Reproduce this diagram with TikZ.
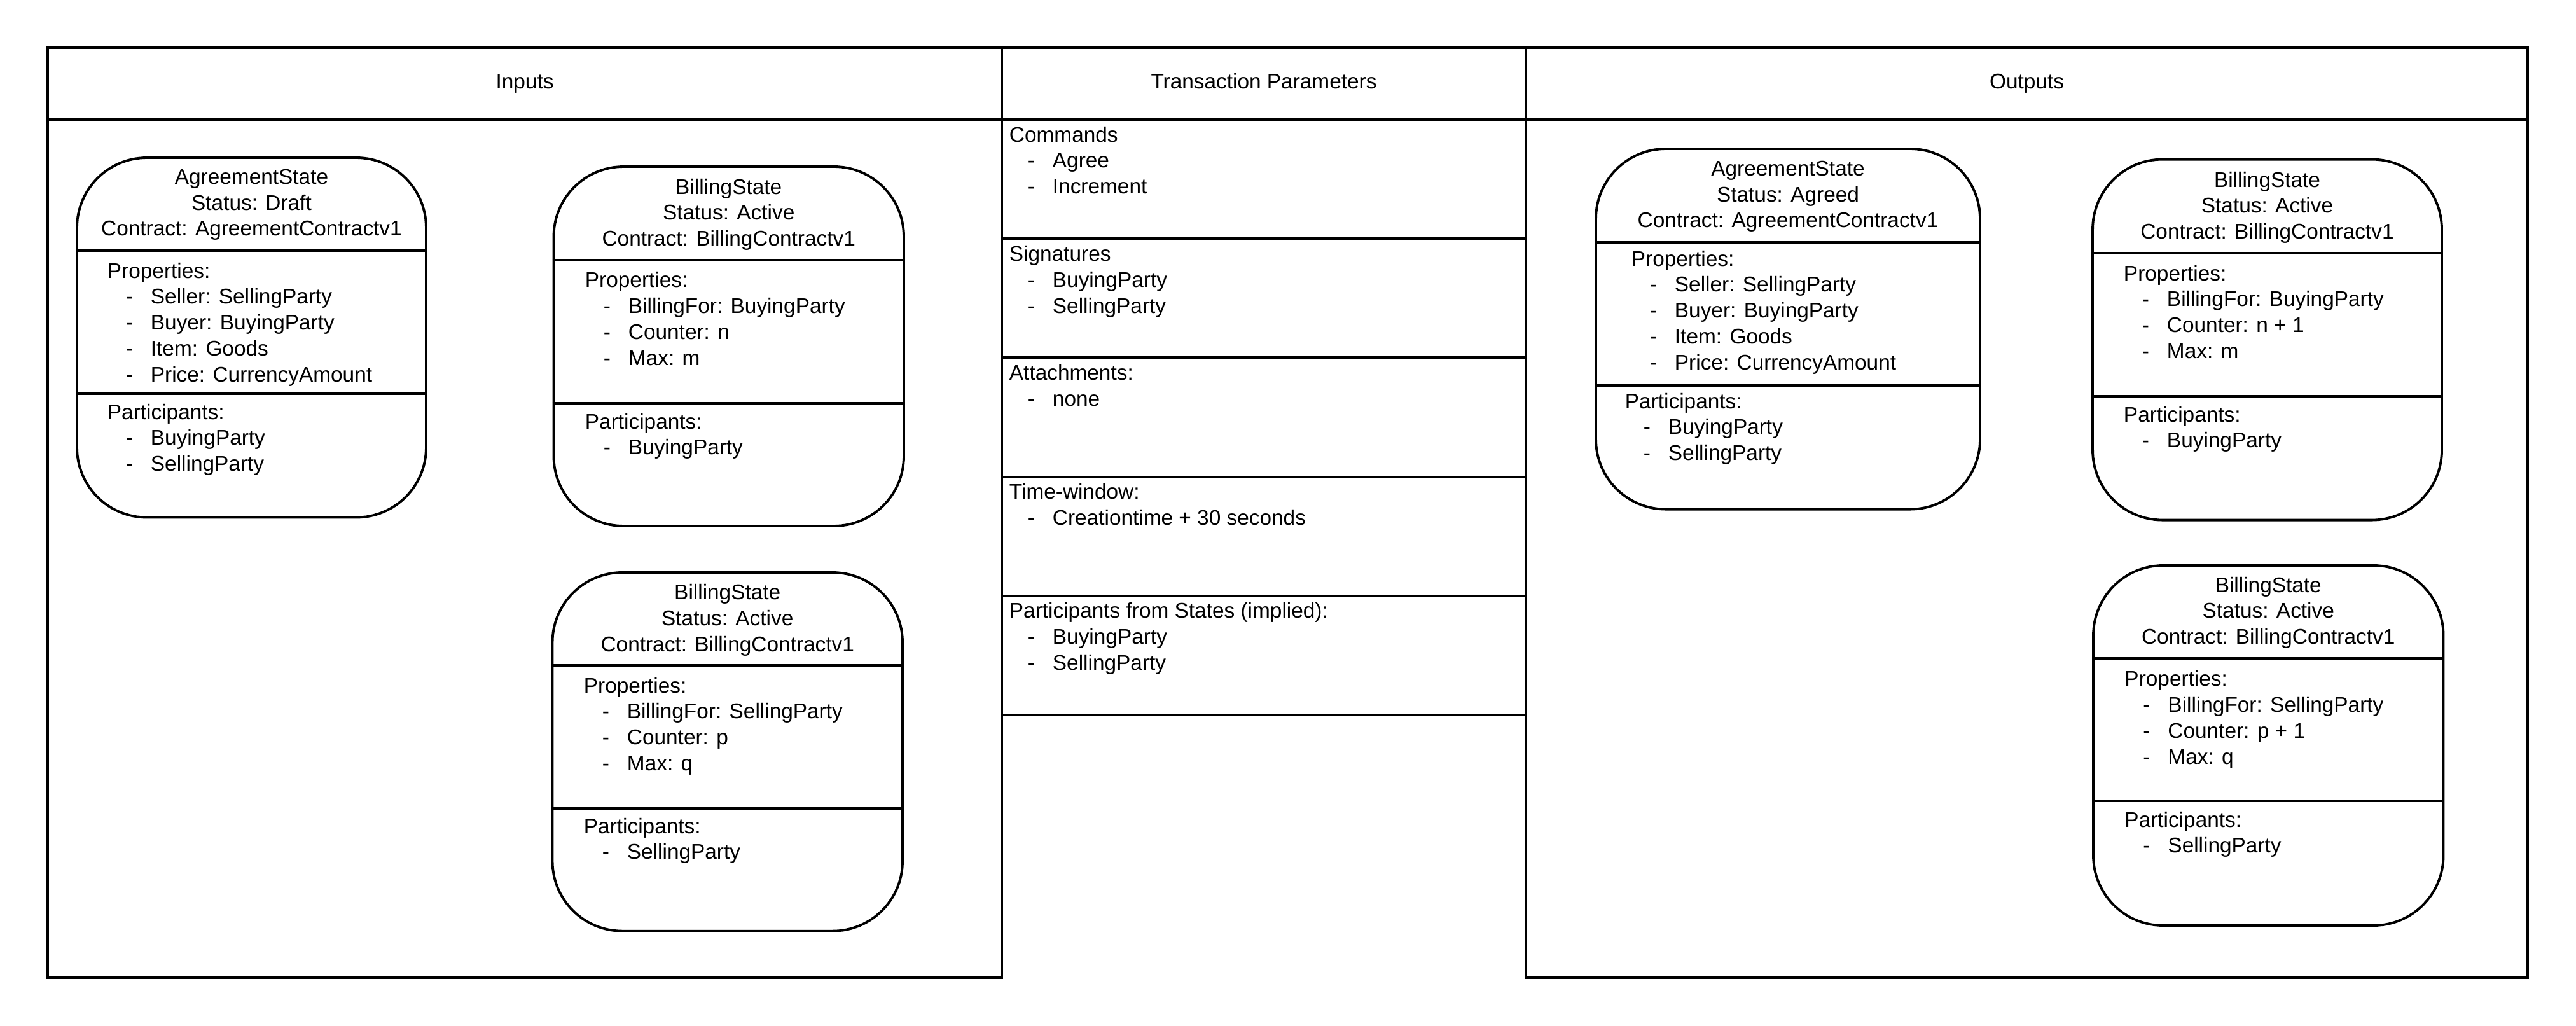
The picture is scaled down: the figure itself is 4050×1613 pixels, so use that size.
\documentclass[tikz,border=0pt]{standalone}
\usepackage{fontspec}
\setmainfont{Liberation Sans}
\newcommand{\itm}[1]{\\\hspace*{2.9mm}\makebox[3.9mm][l]{-}#1}

\begin{document}
\begin{tikzpicture}[x=0.1mm, y=-0.1mm, line width=1.1pt,
    every node/.style={inner sep=0pt, font=\fontsize{9.5}{11.6}\selectfont},
    state/.style={draw, rounded corners=11mm},
    title/.style={anchor=north, align=center},
    list/.style={anchor=north west, align=left}]
	\useasboundingbox (0,0) rectangle (4050,1613);

	% frame
	\draw (75,75) rectangle (1575,1537);
	\draw (2399,75) rectangle (3974,1537);
	\draw (1575,75) -- (2399,75);
	\draw (75,188) -- (3974,188);
	\foreach \y in {375,562,749.5,937,1124}
		\draw (1575,\y) -- (2399,\y);

	\node[anchor=base] (Inputs) at (825,139.5) {Inputs};
	\node[anchor=base] (TxParams) at (1987,139.5) {Transaction Parameters};
	\node[anchor=base] (Outputs) at (3186.5,139.5) {Outputs};

	% transaction parameters
	\node[list] (Commands) at (1585,197) {Commands\itm{Agree}\itm{Increment}};
	\node[list] (Signatures) at (1585,384.5) {Signatures\itm{BuyingParty}\itm{SellingParty}};
	\node[list] (Attachments) at (1585,571.5) {Attachments:\itm{none}};
	\node[list] (TimeWindow) at (1585,758.5) {Time-window:\itm{Creationtime + 30 seconds}};
	\node[list] (TxParts) at (1585,945.5) {Participants from States (implied):\itm{BuyingParty}\itm{SellingParty}};

	% inputs
	\node[state, minimum width=5.49cm, minimum height=5.655cm] (inAgr) at (395.5,530.75) {};
	\draw (inAgr.west |- 0,394) -- (inAgr.east |- 0,394);
	\draw (inAgr.west |- 0,619) -- (inAgr.east |- 0,619);
	\node[title] (inAgrHead) at (395.5,264) {AgreementState\\Status: Draft\\Contract: AgreementContractv1};
	\node[list] (inAgrProps) at (167,411) {Properties:\itm{Seller: SellingParty}\itm{Buyer: BuyingParty}\itm{Item: Goods}\itm{Price: CurrencyAmount}};
	\node[list] (inAgrParts) at (167,633) {Participants:\itm{BuyingParty}\itm{SellingParty}};

	\node[state, minimum width=5.505cm, minimum height=5.65cm] (inBillB) at (1145.75,544.5) {};
	\draw (inBillB.west |- 0,408.5) -- (inBillB.east |- 0,408.5);
	\draw (inBillB.west |- 0,634) -- (inBillB.east |- 0,634);
	\node[title] (inBillBHead) at (1145.75,279) {BillingState\\Status: Active\\Contract: BillingContractv1};
	\node[list] (inBillBProps) at (918,425.6) {Properties:\itm{BillingFor: BuyingParty}\itm{Counter: n}\itm{Max: m}};
	\node[list] (inBillBParts) at (918,648) {Participants:\itm{BuyingParty}};

	\node[state, minimum width=5.505cm, minimum height=5.637cm] (inBillS) at (1143.75,1181.85) {};
	\draw (inBillS.west |- 0,1046) -- (inBillS.east |- 0,1046);
	\draw (inBillS.west |- 0,1271) -- (inBillS.east |- 0,1271);
	\node[title] (inBillSHead) at (1143.75,916.6) {BillingState\\Status: Active\\Contract: BillingContractv1};
	\node[list] (inBillSProps) at (916,1063) {Properties:\itm{BillingFor: SellingParty}\itm{Counter: p}\itm{Max: q}};
	\node[list] (inBillSParts) at (916,1284) {Participants:\itm{SellingParty}};

	% outputs
	\node[state, minimum width=6.04cm, minimum height=5.666cm] (outAgr) at (2811,517.3) {};
	\draw (outAgr.west |- 0,381) -- (outAgr.east |- 0,381);
	\draw (outAgr.west |- 0,606) -- (outAgr.east |- 0,606);
	\node[title] (outAgrHead) at (2811,251) {AgreementState\\Status: Agreed\\Contract: AgreementContractv1};
	\node[list] (outAgrProps) at (2563,392) {Properties:\itm{Seller: SellingParty}\itm{Buyer: BuyingParty}\itm{Item: Goods}\itm{Price: CurrencyAmount}};
	\node[list] (outAgrParts) at (2553,616) {Participants:\itm{BuyingParty}\itm{SellingParty}};

	\node[state, minimum width=5.49cm, minimum height=5.67cm] (outBillB) at (3564.5,534.1) {};
	\draw (outBillB.west |- 0,397.7) -- (outBillB.east |- 0,397.7);
	\draw (outBillB.west |- 0,622.8) -- (outBillB.east |- 0,622.8);
	\node[title] (outBillBHead) at (3564.5,268) {BillingState\\Status: Active\\Contract: BillingContractv1};
	\node[list] (outBillBProps) at (3337,415) {Properties:\itm{BillingFor: BuyingParty}\itm{Counter: n + 1}\itm{Max: m}};
	\node[list] (outBillBParts) at (3337,637) {Participants:\itm{BuyingParty}};

	\node[state, minimum width=5.505cm, minimum height=5.66cm] (outBillS) at (3566.25,1172) {};
	\draw (outBillS.west |- 0,1035) -- (outBillS.east |- 0,1035);
	\draw (outBillS.west |- 0,1259.5) -- (outBillS.east |- 0,1259.5);
	\node[title] (outBillSHead) at (3566.25,905) {BillingState\\Status: Active\\Contract: BillingContractv1};
	\node[list] (outBillSProps) at (3338.5,1052.6) {Properties:\itm{BillingFor: SellingParty}\itm{Counter: p + 1}\itm{Max: q}};
	\node[list] (outBillSParts) at (3338.5,1274) {Participants:\itm{SellingParty}};
\end{tikzpicture}
\end{document}
